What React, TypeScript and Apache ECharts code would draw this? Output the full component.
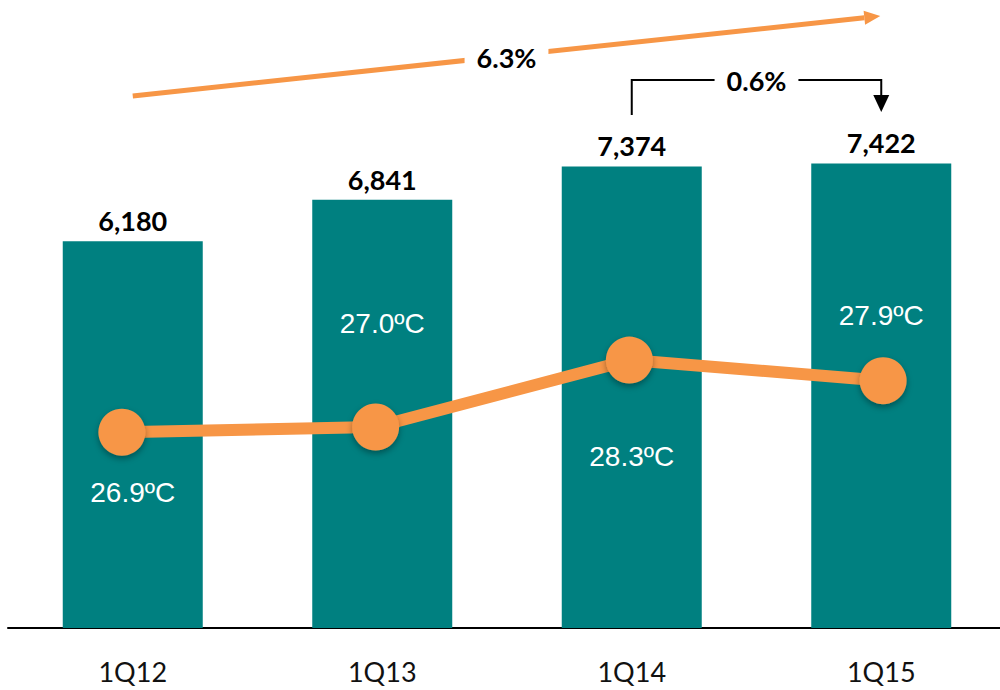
import React, { useEffect, useRef } from "react";
import * as echarts from "echarts";

const categories = ["1Q12", "1Q13", "1Q14", "1Q15"];
const volumes = [6180, 6841, 7374, 7422];
const temperatures = [26.9, 27.0, 28.3, 27.9];
const tempLabelSide = ["bottom", "top", "bottom", "top"];
const tempLabelDistance = [23.5, 66.5, 59.5, 28.5];
const totalGrowth = "6.3%";
const lastGrowth = "0.6%";

const TEAL = "#008080";
const ORANGE = "#F79646";
const BOLD_FONT = "Lato";
const TEMP_MIN = 23.1;
const TEMP_MAX = 35.25;

export default function App() {
  const ref = useRef<HTMLDivElement>(null);

  useEffect(() => {
    if (!ref.current) return;
    const chart = echarts.init(ref.current, null, { renderer: "svg" });
    chart.setOption({
      animation: false,
      backgroundColor: "#ffffff",
      grid: [
        { left: 18, right: 4, top: 2, bottom: 62, containLabel: false },
        { left: 5, right: 0, top: 2, bottom: 62, containLabel: false },
      ],
      xAxis: [
        {
          type: "category",
          gridIndex: 0,
          data: categories,
          axisLine: { show: true, lineStyle: { color: "#000", width: 2 } },
          axisTick: { show: false },
          axisLabel: {
            color: "#111",
            fontSize: 27,
            fontFamily: BOLD_FONT,
            margin: 30,
          },
        },
        {
          type: "category",
          gridIndex: 1,
          data: categories,
          show: false,
        },
      ],
      yAxis: [
        { type: "value", gridIndex: 0, min: 0, max: 10000, show: false },
        { type: "value", gridIndex: 1, min: TEMP_MIN, max: TEMP_MAX, show: false },
        { type: "value", gridIndex: 0, min: TEMP_MIN, max: TEMP_MAX, show: false },
      ],
      series: [
        {
          type: "bar",
          xAxisIndex: 0,
          yAxisIndex: 0,
          data: volumes,
          barWidth: 140,
          itemStyle: { color: TEAL },
          label: {
            show: true,
            position: "top",
            distance: 7,
            color: "#000",
            fontSize: 27,
            fontWeight: "bold",
            fontFamily: BOLD_FONT,
            formatter: (p: any) => Number(p.value).toLocaleString("en-US"),
          },
        },
        {
          type: "line",
          xAxisIndex: 1,
          yAxisIndex: 1,
          z: 5,
          data: temperatures,
          symbol: "circle",
          symbolSize: 47,
          lineStyle: { color: ORANGE, width: 12 },
          itemStyle: {
            color: ORANGE,
            shadowBlur: 6,
            shadowColor: "rgba(0,0,0,0.35)",
            shadowOffsetY: 3,
          },
          label: { show: false },
        },
        {
          type: "scatter",
          xAxisIndex: 0,
          yAxisIndex: 2,
          z: 6,
          symbolSize: 46,
          itemStyle: { color: "rgba(0,0,0,0)", opacity: 1 },
          data: temperatures.map((v, i) => ({
            value: v,
            label: {
              position: tempLabelSide[i],
              distance: tempLabelDistance[i],
            },
          })),
          label: {
            show: true,
            color: "#ffffff",
            opacity: 1,
            fontSize: 28,
            fontFamily: "Liberation Sans",
            formatter: (p: any) => Number(p.value).toFixed(1) + "ºC",
          },
        },
      ],
    });

    const xs = categories.map(
      (c) => chart.convertToPixel({ xAxisIndex: 0 }, c) as number
    );
    const x0 = xs[0];
    const x2 = xs[2];
    const x3 = xs[3];

    const ax1 = x0, ay1 = 96, ax2 = x3 - 1, ay2 = 16;
    const dx = ax2 - ax1, dy = ay2 - ay1;
    const len = Math.sqrt(dx * dx + dy * dy);
    const ux = dx / len, uy = dy / len;
    const headL = 16, headW = 7;
    const bx = ax2 - ux * headL, by = ay2 - uy * headL;

    chart.setOption({
      graphic: [
        {
          type: "line",
          shape: { x1: ax1, y1: ay1, x2: bx, y2: by },
          style: { stroke: ORANGE, lineWidth: 5 },
          z: 10,
        },
        {
          type: "polygon",
          shape: {
            points: [
              [ax2, ay2],
              [bx - uy * headW, by + ux * headW],
              [bx + uy * headW, by - ux * headW],
            ],
          },
          style: { fill: ORANGE },
          z: 10,
        },
        {
          type: "text",
          x: (ax1 + ax2) / 2,
          y: 57,
          z: 11,
          style: {
            text: totalGrowth,
            fill: "#000",
            font: `bold 27px ${BOLD_FONT}`,
            align: "center",
            verticalAlign: "middle",
            backgroundColor: "#fff",
            padding: [2, 12],
          },
        },
        {
          type: "polyline",
          shape: {
            points: [
              [x2, 115],
              [x2, 80],
              [x3, 80],
              [x3, 97],
            ],
          },
          style: { stroke: "#000", lineWidth: 2, fill: null },
          z: 10,
        },
        {
          type: "polygon",
          shape: {
            points: [
              [x3 - 8, 95],
              [x3 + 8, 95],
              [x3, 112],
            ],
          },
          style: { fill: "#000" },
          z: 10,
        },
        {
          type: "text",
          x: (x2 + x3) / 2,
          y: 80,
          z: 11,
          style: {
            text: lastGrowth,
            fill: "#000",
            font: `bold 27px ${BOLD_FONT}`,
            align: "center",
            verticalAlign: "middle",
            backgroundColor: "#fff",
            padding: [2, 12],
          },
        },
      ],
    });

    return () => chart.dispose();
  }, []);

  return (
    <div
      style={{
        position: "fixed",
        left: 0,
        top: 0,
        width: 1000,
        height: 690,
        overflow: "hidden",
        background: "#fff",
      }}
    >
      <div
        ref={ref}
        style={{ position: "absolute", left: -10, top: 0, width: 1020, height: 690 }}
      />
    </div>
  );
}
